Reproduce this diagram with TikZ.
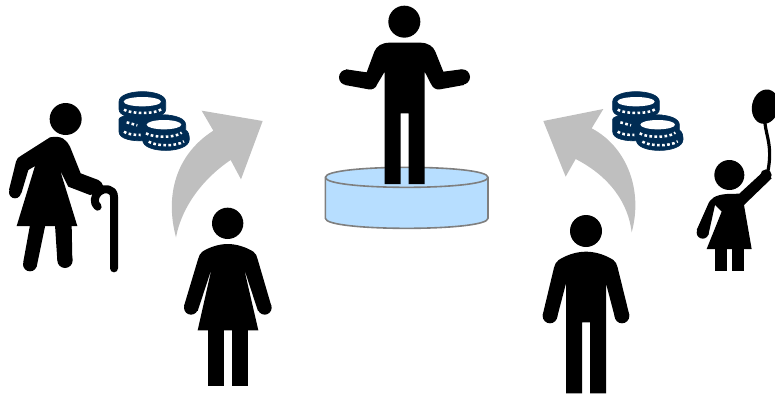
\documentclass[tikz,border=0pt]{standalone}
\definecolor{coinblue}{HTML}{002C54}
\definecolor{arrowgrey}{HTML}{BFBFBF}
\definecolor{poolblue}{HTML}{B7DEFF}
\definecolor{poolline}{HTML}{7F7F7F}
\tikzset{
  zm/.style 2 args={xshift=#1*.75pt,yshift=-#2*.75pt,x=.25pt,y=-.25pt},
  figure/.style={fill=black},
  limb/.style={draw=black,line cap=round,line join=round},
  bigarrow/.style={fill=arrowgrey},
  coinbody/.style={fill=coinblue,draw=coinblue,line width=.5pt,line join=round},
  coinhole/.style={fill=white},
  coindash/.style={draw=white,line width=1.9pt,dash pattern=on 2pt off 1.8pt},
}
\newcommand{\coinstack}[1]{%
\begin{scope}[zm={#1}{80}]
  % lower back coin
  \fill[coinbody] (357,118) .. controls (357,108) and (400,100) .. (440,105) -- (505,105) -- (505,150) -- (430,182) .. controls (400,184) and (357,178) .. (357,155) -- cycle;
  % top coin
  \fill[coinbody] (357,65) .. controls (357,25) and (497,25) .. (497,65) -- (497,88) .. controls (497,125) and (357,125) .. (357,88) -- cycle;
  \fill[coinhole] (427,65) ellipse [x radius=56,y radius=14];
  \draw[coindash] (372,89) .. controls (390,101) and (462,104) .. (484,88);
  \draw[coindash] (372,155) .. controls (380,162) and (400,165) .. (422,165);
  \draw[coindash] (380,127) -- (412,136);
  % front coins
  \fill[coinbody] (427,135) .. controls (427,95) and (557,95) .. (557,135) -- (557,150) .. controls (565,155) and (568,165) .. (568,178) .. controls (568,222) and (428,222) .. (428,180) .. controls (428,170) and (427,165) .. (427,155) -- cycle;
  \fill[coinhole] (492,134) ellipse [x radius=52,y radius=14];
  \draw[coindash] (438,160) .. controls (458,173) and (525,175) .. (545,158);
  \draw[coindash] (446,185) .. controls (468,199) and (530,200) .. (552,184);
\end{scope}}
\begin{document}
\begin{tikzpicture}[x=.75pt,y=-.75pt]
\useasboundingbox (0,0) rectangle (775,393);
% grey arrows
\begin{scope}[zm={0}{80}]
  \fill[bigarrow] (528,472) .. controls (495,350) and (525,225) .. (640,152) -- (605,92) -- (788,123) -- (723,298) -- (692,240) .. controls (610,295) and (545,380) .. (528,472) -- cycle;
\end{scope}
\begin{scope}[zm={530}{80}]
  \fill[bigarrow] (305,457) .. controls (340,330) and (290,200) .. (185,145) -- (220,87) -- (40,123) -- (107,290) -- (137,237) .. controls (240,290) and (295,370) .. (305,457) -- cycle;
\end{scope}
% coins
\coinstack{0}
\coinstack{493.7}
% pool and central man
\begin{scope}[zm={320}{0}]
  \path[fill=poolblue,draw=poolline,line width=1.2pt] (16,532) -- (16,655) .. controls (16,695) and (504,695) .. (504,655) -- (504,532) .. controls (504,492) and (16,492) .. (16,532) -- cycle;
  \draw[poolline,line width=1.2pt] (16,532) .. controls (16,572) and (504,572) .. (504,532);
  \fill[figure] (253,65) circle [radius=48];
  \fill[figure] (210,128) -- (300,128) .. controls (325,128) and (340,140) .. (346,155) -- (370,215) -- (425,208) -- (432,255) -- (360,268) .. controls (345,270) and (338,262) .. (332,250) -- (314,215) -- (314,552) -- (266,552) -- (266,340) -- (242,340) -- (242,552) -- (194,552) -- (194,215) -- (172,252) .. controls (168,264) and (158,270) .. (146,268) -- (75,255) -- (78,208) -- (140,217) -- (163,155) .. controls (170,138) and (185,128) .. (210,128) -- cycle;
  \fill[figure] (80,232) circle [radius=23];
  \fill[figure] (427,231) circle [radius=23];
\end{scope}
% old woman with cane
\begin{scope}[zm={0}{80}]
  \fill[figure] (197,117) circle [radius=48];
  \fill[figure] (150,172) .. controls (185,165) and (200,180) .. (210,200) -- (242,280) -- (295,300) .. controls (310,308) and (312,322) .. (305,335) -- (270,345) -- (205,320) -- (180,270) -- (232,438) -- (50,438) -- (105,258) -- (85,270) -- (64,340) -- (27,330) -- (48,245) .. controls (50,235) and (55,232) .. (62,228) -- cycle;
  \fill[figure] (45,337) circle [radius=18];
  \fill[figure] (90,435) -- (70,545) -- (110,560) -- (136,435) -- cycle;
  \fill[figure] (90,553) circle [radius=21];
  \fill[figure] (165,435) -- (172,542) -- (217,540) -- (215,435) -- cycle;
  \fill[figure] (195,541) circle [radius=23];
  \draw[limb,line width=6pt] (342,565) -- (342,350) .. controls (342,325) and (312,322) .. (297,335) .. controls (282,348) and (280,370) .. (293,380);
\end{scope}
% woman
\begin{scope}[zm={170}{200}]
  \fill[figure] (173,70) circle [radius=47];
  \fill[figure] (173,132) .. controls (200,132) and (230,142) .. (250,155) .. controls (258,160) and (260,168) .. (263,178) -- (304,318) -- (264,333) -- (222,205) -- (265,391) -- (83,391) -- (125,205) -- (83,333) -- (42,318) -- (84,178) .. controls (87,168) and (90,160) .. (97,155) .. controls (117,142) and (146,132) .. (173,132) -- cycle;
  \fill[figure] (63,323) circle [radius=21];
  \fill[figure] (284,323) circle [radius=21];
  \fill[figure] (114,388) rectangle (162,558);
  \fill[figure] (186,388) rectangle (234,558);
\end{scope}
% man
\begin{scope}[zm={530}{205}]
  \fill[figure] (168,78) circle [radius=48];
  \fill[figure] (168,140) .. controls (200,140) and (230,152) .. (250,165) .. controls (258,170) and (260,178) .. (263,188) -- (298,330) -- (256,342) -- (228,235) -- (228,565) -- (180,565) -- (180,352) -- (156,352) -- (156,565) -- (108,565) -- (108,235) -- (80,342) -- (38,330) -- (72,188) .. controls (75,178) and (78,170) .. (86,165) .. controls (106,152) and (136,140) .. (168,140) -- cycle;
  \fill[figure] (60,333) circle [radius=22];
  \fill[figure] (276,333) circle [radius=22];
\end{scope}
% child with balloon
\begin{scope}[zm={530}{80}]
  \fill[figure,rotate around={-12:(706,80)}] (706,80) ellipse [x radius=40,y radius=52];
  \draw[limb,line width=2.4pt] (705,130) .. controls (708,165) and (728,200) .. (714,272);
  \fill[figure] (598,285) circle [radius=45];
  \fill[figure] (628,341) -- (705,270) -- (725,295) -- (642,375) -- (665,507) -- (530,507) -- (575,395) -- (555,375) -- (535,465) -- (500,450) -- (532,378) .. controls (540,355) and (555,345) .. (590,342) -- cycle;
  \fill[figure] (708,285) circle [radius=17];
  \fill[figure] (518,458) circle [radius=18];
  \fill[figure] (555,505) rectangle (590,573);
  \fill[figure] (607,505) rectangle (643,573);
\end{scope}
\end{tikzpicture}
\end{document}
